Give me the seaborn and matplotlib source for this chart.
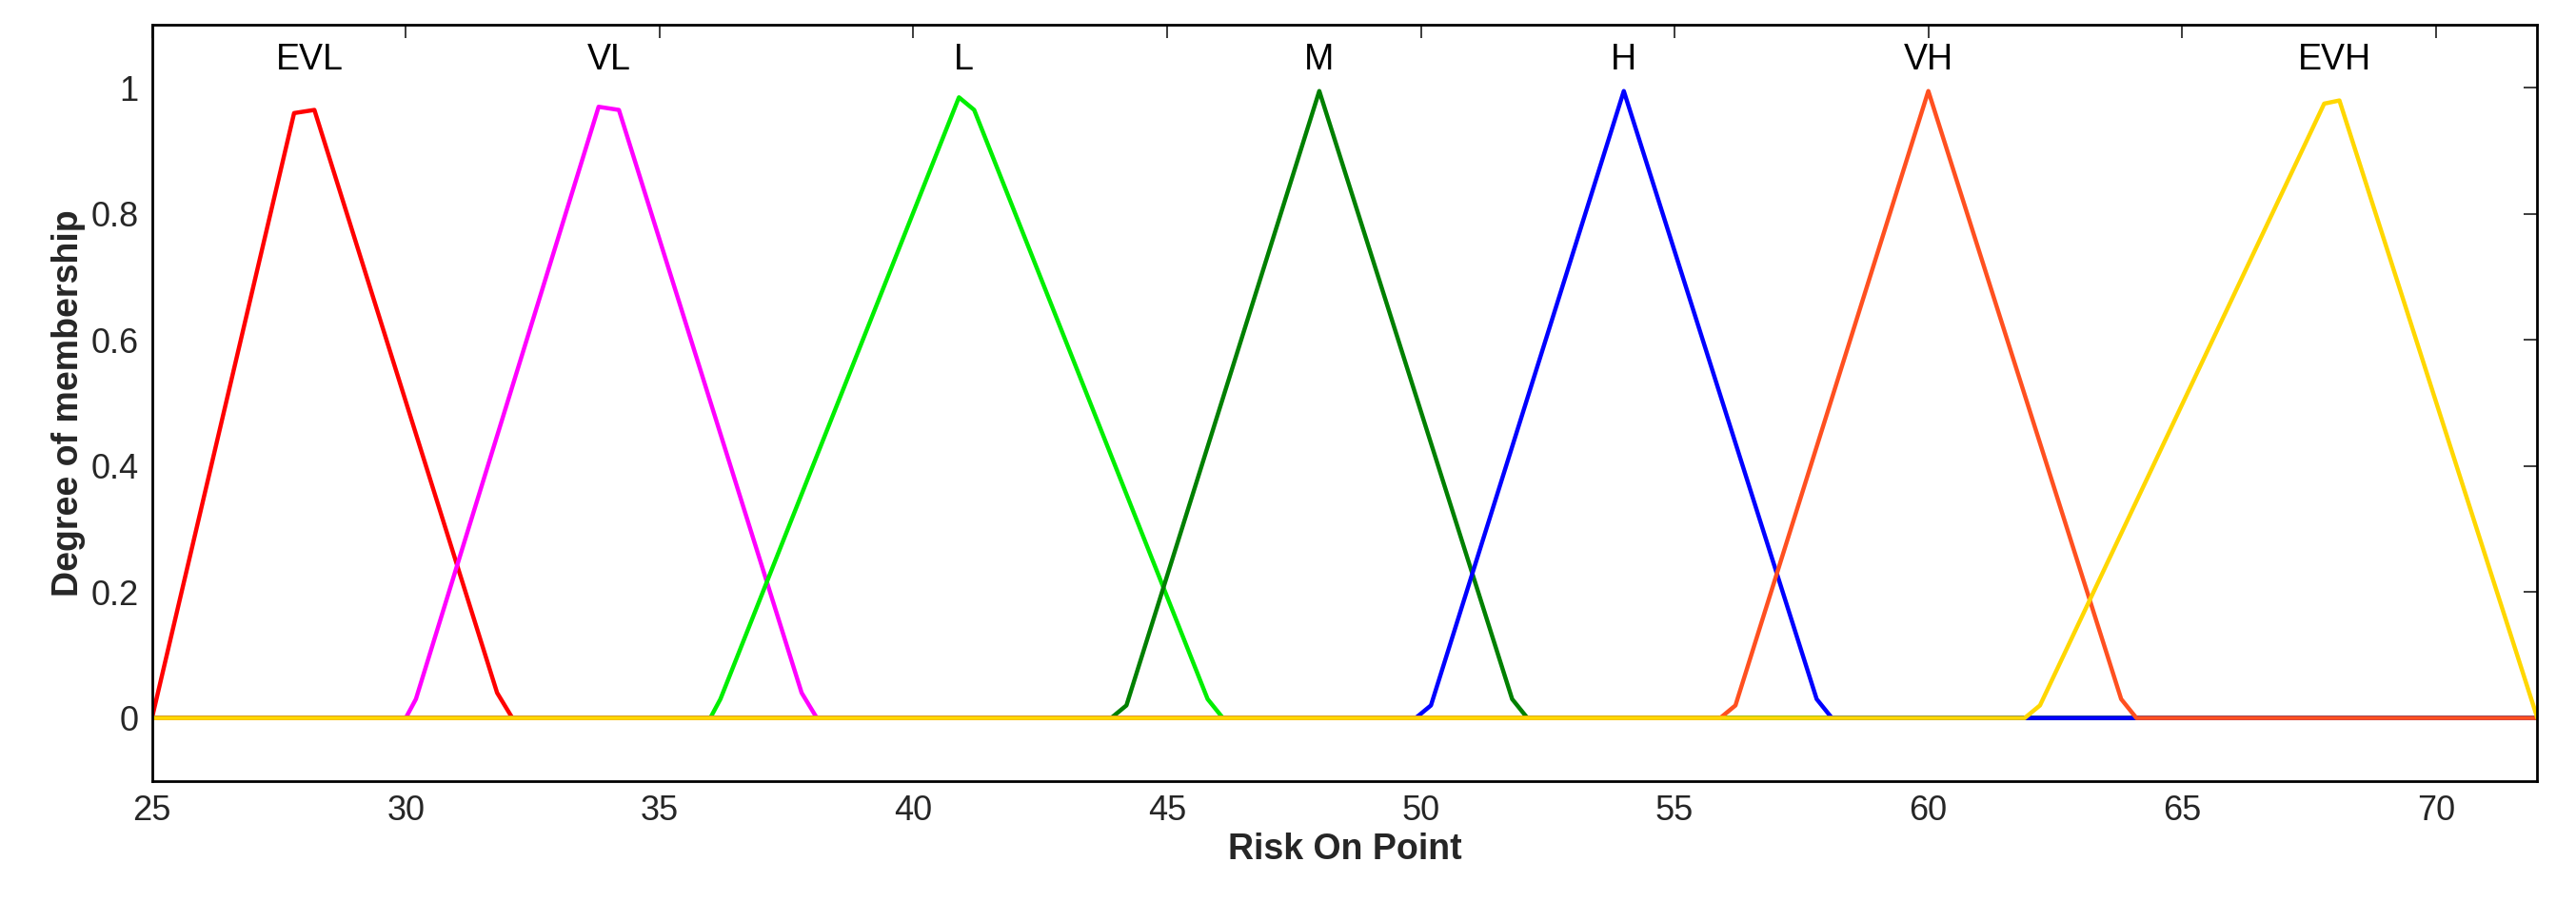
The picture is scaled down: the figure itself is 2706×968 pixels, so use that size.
import matplotlib
matplotlib.use('Agg')
import matplotlib.pyplot as plt
import seaborn as sns

sns.set_theme(style='white')
plt.rcParams['font.family'] = ['Arial', 'Liberation Sans', 'DejaVu Sans']

names = ['EVL', 'VL', 'L', 'M', 'H', 'VH', 'EVH']
colors = ['#ff0000', '#ff00ff', '#00ee00', '#008000', '#0000ff', '#ff5020', '#ffd700']
xs = [
    [25, 27.8, 28.2, 31.8, 32.1],
    [30, 30.2, 33.8, 34.2, 37.8, 38.1],
    [36, 36.2, 40.9, 41.2, 45.8, 46.1],
    [43.9, 44.2, 48.0, 51.8, 52.1],
    [49.9, 50.2, 54.0, 57.8, 58.1],
    [55.9, 56.2, 60.0, 63.8, 64.1],
    [61.9, 62.2, 67.8, 68.1, 72],
]
ys = [
    [0, 0.96, 0.965, 0.04, 0],
    [0, 0.03, 0.97, 0.965, 0.04, 0],
    [0, 0.03, 0.985, 0.965, 0.03, 0],
    [0, 0.02, 0.995, 0.03, 0],
    [0, 0.02, 0.995, 0.03, 0],
    [0, 0.02, 0.995, 0.03, 0],
    [0, 0.02, 0.975, 0.98, 0],
]
label_x = [28.1, 34.0, 41.0, 48.0, 54.0, 60.0, 68.0]
x_min, x_max = 25, 72

fig, ax = plt.subplots(figsize=(27.06, 9.68), dpi=100)
for x, y, c in zip(xs, ys, colors):
    px = [x_min] + x + [x_max]
    py = [0] + y + [0]
    sns.lineplot(x=px, y=py, color=c, lw=3.2, ax=ax, sort=False, estimator=None)
for n, lx in zip(names, label_x):
    ax.text(lx, 1.045, n, ha='center', va='center', fontsize=27, color='black')

ax.set_xlim(x_min, x_max)
ax.set_ylim(-0.1, 1.1)
ax.set_xticks(range(25, 71, 5))
ax.set_yticks([0, 0.2, 0.4, 0.6, 0.8, 1])
ax.set_yticklabels(['0', '0.2', '0.4', '0.6', '0.8', '1'])
ax.tick_params(labelsize=26, direction='in', length=10, top=True, right=True, pad=10)
ax.set_xlabel('Risk On Point', fontsize=27, fontweight='bold')
ax.set_ylabel('Degree of membership', fontsize=27, fontweight='bold')
for s in ax.spines.values():
    s.set_color('black')
    s.set_linewidth(2)
fig.subplots_adjust(left=0.059, right=0.985, top=0.973, bottom=0.152)
fig.savefig('out.png', dpi=100)
